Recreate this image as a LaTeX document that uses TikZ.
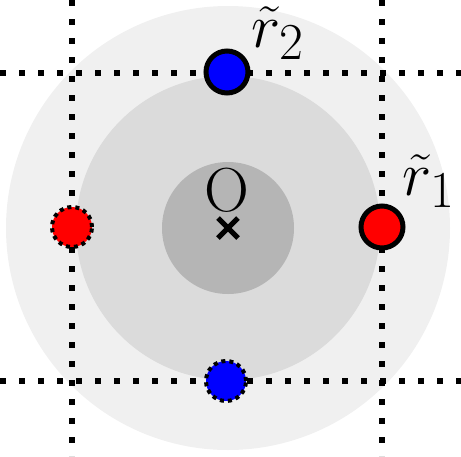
\documentclass[tikz,border=0pt]{standalone}
\usetikzlibrary{calc}
\begin{document}
\begin{tikzpicture}[x=1pt,y=-1pt,
  dotline/.style={line width=6pt, dash pattern=on 6pt off 13pt},
  solidball/.style={circle, draw=black, line width=5pt, minimum size=42pt, inner sep=0pt},
  dottedball/.style={circle, draw=black, line width=4pt, dash pattern=on 4pt off 4pt, minimum size=40pt, inner sep=0pt},
  lbl/.style={inner sep=0pt, font=\Huge, scale=2.5}]
\useasboundingbox (0,0) rectangle (461,456);
\fill[gray!12] (228,228) circle (222);
\fill[gray!28] (228,228) circle (152);
\fill[gray!58] (228,228) circle (66);
\coordinate (vl1) at (72,0); \coordinate (vl2) at (72,456);
\coordinate (vr1) at (382,0); \coordinate (vr2) at (382,456);
\coordinate (ht1) at (0,73); \coordinate (ht2) at (461,73);
\coordinate (hb1) at (0,381); \coordinate (hb2) at (461,381);
\draw[dotline] (vl1) -- (vl2);
\draw[dotline] (vr1) -- (vr2);
\draw[dotline] (ht1) -- (ht2);
\draw[dotline] (hb1) -- (hb2);
\node[solidball, fill=blue] (b1) at (227,72) {};
\node[solidball, fill=red] (r1) at (382,227) {};
\node[dottedball, fill=red] (r2) at (72,227) {};
\node[dottedball, fill=blue] (b2) at (226,381) {};
\node[lbl] (l2) at (278,33) {$\tilde r_2$};
\node[lbl] (l1) at (429,181) {$\tilde r_1$};
\node[lbl] (o) at (227,190) {O};
\coordinate (c) at (228,228);
\draw[line width=5pt] ($(c)+(-10,-10)$) -- ($(c)+(10,10)$);
\draw[line width=5pt] ($(c)+(-10,10)$) -- ($(c)+(10,-10)$);
\end{tikzpicture}
\end{document}
